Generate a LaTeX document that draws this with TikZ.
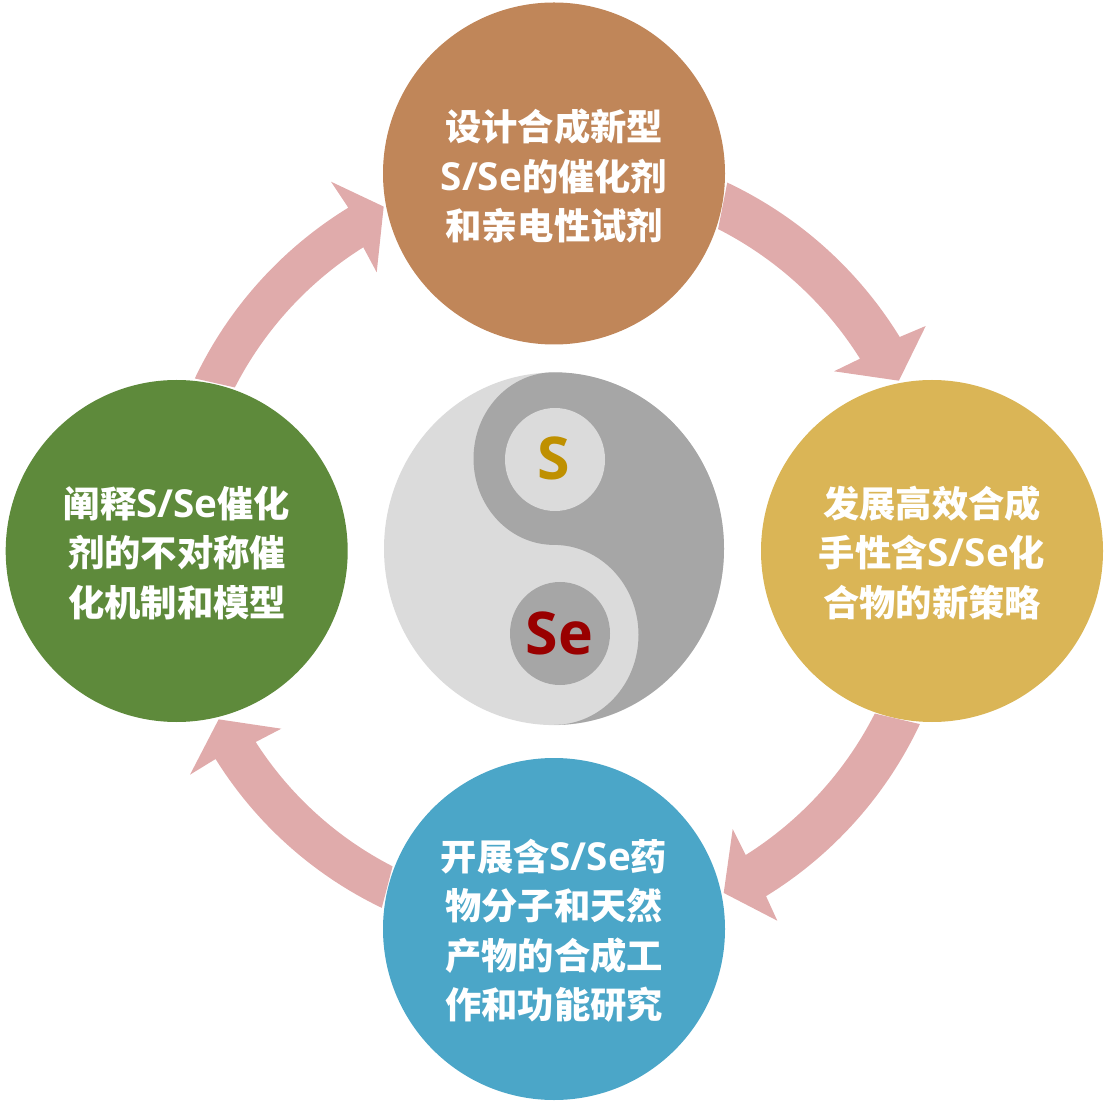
\documentclass[tikz,border=0pt]{standalone}
\usepackage{fontspec}
\setmainfont{Open Sans}
\newfontfamily\cjk{Noto Sans CJK SC}
\usetikzlibrary{shapes.geometric}
\definecolor{cTop}{HTML}{C08659}
\definecolor{cRight}{HTML}{DAB556}
\definecolor{cBottom}{HTML}{4BA6C8}
\definecolor{cLeft}{HTML}{5E8A3B}
\definecolor{cArrow}{HTML}{E0ABAB}
\definecolor{yyLight}{HTML}{DBDBDB}
\definecolor{yyDark}{HTML}{A6A6A6}
\definecolor{cS}{HTML}{BF9000}
\definecolor{cSe}{HTML}{990000}
\newcommand{\sse}{{\fontspec{Open Sans}\fontsize{38.6}{49.5}\selectfont\bfseries S/Se}}
\tikzset{
  hub/.style={circle,minimum size=342pt,inner sep=0pt,outer sep=2.5pt},
  hubtext/.style={text=white,align=center,inner sep=0pt,font=\cjk\bfseries\fontsize{36.3}{49.5}\selectfont},
  blockarrow/.style={fill=cArrow,draw=none},
  yyspot/.style={ellipse,minimum width=100pt,minimum height=103pt,inner sep=0pt},
  yylabel/.style={font=\bfseries\fontsize{59}{60}\selectfont,inner sep=0pt}
}
\begin{document}
\begin{tikzpicture}[x=1pt,y=1pt]
\useasboundingbox (0,0) rectangle (1110,1104);
% hubs
\node[hub,fill=cTop] (top) at (554,930.5) {};
\node[hub,fill=cRight] (right) at (932,553) {};
\node[hub,fill=cBottom] (bottom) at (554,175) {};
\node[hub,fill=cLeft] (left) at (176.7,553) {};
% hub texts
\node[hubtext] (ttop) at (554,927.8) {设计合成新型\\\sse 的催化剂\\和亲电性试剂};
\node[hubtext] (tright) at (932,551.3) {发展高效合成\\手性含\sse 化\\合物的新策略};
\node[hubtext] (tbottom) at (554,173.3) {开展含\sse 药\\物分子和天然\\产物的合成工\\作和功能研究};
\node[hubtext] (tleft) at (177,551.3) {阐释\sse 催化\\剂的不对称催\\化机制和模型};
% arrow vertices
\coordinate (a1b1) at (925.7,778);
\coordinate (a1b2) at (834,732.7);
\coordinate (a1i) at (860,745.3);
\coordinate (a2b1) at (777.3,183.3);
\coordinate (a2b2) at (732.7,275);
\coordinate (a2i) at (745.7,249);
\coordinate (a3b1) at (190,329.3);
\coordinate (a3b2) at (281.3,375.3);
\coordinate (a3i) at (255.7,362);
\coordinate (a4b1) at (331,922.3);
\coordinate (a4b2) at (376.7,831.7);
\coordinate (a4i) at (363.3,856.7);
% block arrows
\fill[blockarrow] (top.-3.7) arc[start angle=64.76,end angle=31.55,radius=405] -- (a1b1) -- (right.101.5) -- (a1b2) -- (a1i)
  arc[start angle=32.15,end angle=63.03,radius=361] -- cycle;
\fill[blockarrow] (right.266.4) arc[start angle=-25.2,end angle=-58.4,radius=404] -- (a2b1) -- (bottom.12.55) -- (a2b2) -- (a2i)
  arc[start angle=-57.8,end angle=-26.95,radius=360] -- cycle;
\fill[blockarrow] (bottom.173.9) arc[start angle=244.4,end angle=211.9,radius=398.7] -- (a3b1) -- (left.-76.3) -- (a3b2) -- (a3i)
  arc[start angle=212.63,end angle=242.87,radius=354.5] -- cycle;
\fill[blockarrow] (left.84.3) arc[start angle=154.6,end angle=121.5,radius=403] -- (a4b1) -- (top.191.9) -- (a4b2) -- (a4i)
  arc[start angle=122.1,end angle=152.9,radius=358] -- cycle;
% yin-yang
\node[ellipse,fill=yyLight,minimum width=340pt,minimum height=352.6pt,inner sep=0pt] (yy) at (554,555.2) {};
\fill[yyDark] (yy.north) arc[start angle=90,end angle=-90,x radius=170,y radius=176.3]
  arc[start angle=-90,end angle=90,x radius=84.5,y radius=90]
  arc[start angle=270,end angle=90,x radius=80.5,y radius=86.3] -- cycle;
\node[yyspot,fill=yyLight] (sspot) at (555,644.5) {};
\node[yyspot,fill=yyDark] (sespot) at (560,470.5) {};
\node[yylabel,text=cS] (slabel) at (553.3,646) {S};
\node[yylabel,text=cSe] (selabel) at (559.5,471) {Se};
\end{tikzpicture}
\end{document}
